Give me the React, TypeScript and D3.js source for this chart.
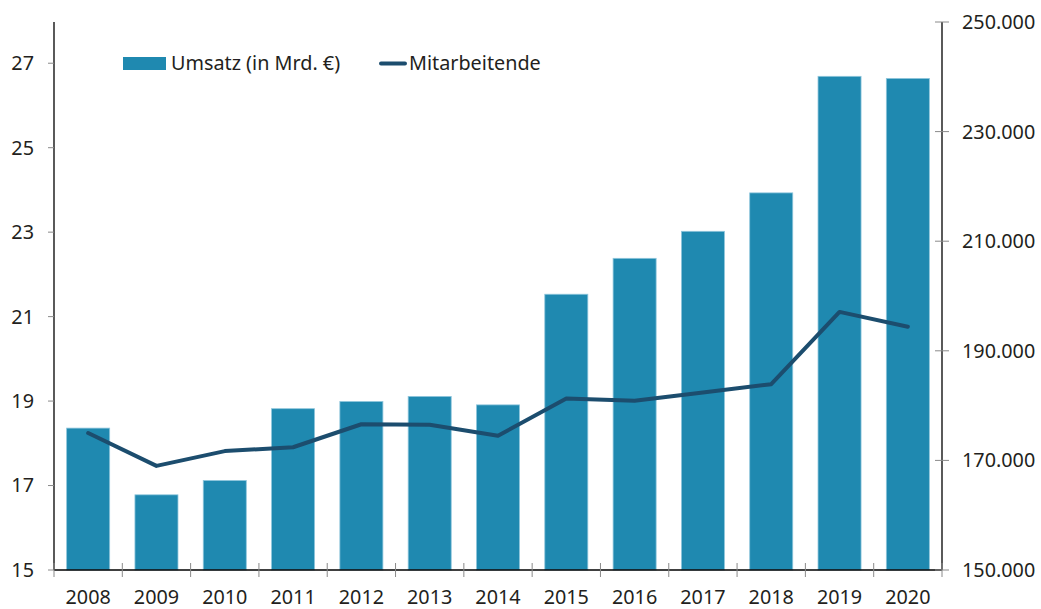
import React from "react";
import * as d3 from "d3";

const years = ["2008","2009","2010","2011","2012","2013","2014","2015","2016","2017","2018","2019","2020"];
const umsatz = [18.36, 16.78, 17.12, 18.82, 18.99, 19.11, 18.91, 21.53, 22.38, 23.02, 23.93, 26.69, 26.64];
const mitarbeitende = [175000, 169000, 171700, 172400, 176600, 176500, 174500, 181300, 180900, 182400, 183900, 197100, 194400];
const leftTicks = [15, 17, 19, 21, 23, 25, 27];
const rightTicks = [150000, 170000, 190000, 210000, 230000, 250000];

const W = 1041, H = 609;
const x0 = 54, x1 = 942, yTop = 22, yBot = 570;
const font = "'Noto Sans', 'Open Sans', sans-serif";
const textColor = "#231f20";
const tickColor = "#8a8a8a";
const fs = 19.8;

export default function App() {
  const x = d3.scaleBand<string>().domain(years).range([x0, x1]).paddingInner(0.37).paddingOuter(0.185);
  const band = d3.scaleBand<string>().domain(years).range([x0, x1]);
  const yL = d3.scaleLinear().domain([15, 28]).range([yBot, yTop - 1]);
  const yR = d3.scaleLinear().domain([150000, 250000]).range([yBot, yTop]);
  const line = d3.line<number>().x((_, i) => band(years[i])! + band.bandwidth() / 2).y(d => yR(d));
  const fmt = (v: number) => d3.format(",")(v).replace(/,/g, ".");
  return (
    <svg width={W} height={H} style={{ position: "absolute", left: 0, top: 0, background: "#fff" }}>
      {years.map((yr, i) => (
        <rect key={yr} x={x(yr)} y={yL(umsatz[i])} width={x.bandwidth()} height={yBot - yL(umsatz[i])}
          fill="#1f89b0" stroke="#8fc6dc" strokeWidth={0.8} />
      ))}
      <path d={line(mitarbeitende) || ""} fill="none" stroke="#1c4d6e" strokeWidth={4} strokeLinejoin="round" strokeLinecap="round" />
      {/* axes */}
      <line x1={x0} x2={x0} y1={yTop} y2={yBot} stroke="#000" strokeWidth={1.3} />
      <line x1={x1} x2={x1} y1={yTop} y2={yBot} stroke="#000" strokeWidth={1.3} />
      <line x1={x0} x2={x1} y1={yBot} y2={yBot} stroke="#000" strokeWidth={1.3} />
      {leftTicks.map(t => (
        <g key={t}>
          <line x1={x0 - 6} x2={x0} y1={yL(t)} y2={yL(t)} stroke={tickColor} strokeWidth={1} />
          <text x={34} y={yL(t)} dy="0.35em" textAnchor="end" fontFamily={font} fontSize={fs} fill={textColor}>{t}</text>
        </g>
      ))}
      {rightTicks.map(t => (
        <g key={t}>
          <line x1={x1 - 7} x2={x1 + 7} y1={yR(t)} y2={yR(t)} stroke={tickColor} strokeWidth={1} />
          <text x={962} y={yR(t)} dy="0.35em" textAnchor="start" fontFamily={font} fontSize={fs} fill={textColor}>{fmt(t)}</text>
        </g>
      ))}
      {[...years.map(y => band(y)!), x1].map((px, i) => (
        <line key={i} x1={px} x2={px} y1={yBot - 7} y2={yBot + 7} stroke={tickColor} strokeWidth={1} />
      ))}
      {years.map(yr => (
        <text key={yr} x={band(yr)! + band.bandwidth() / 2} y={604} textAnchor="middle" fontFamily={font} fontSize={fs} fill={textColor}>{yr}</text>
      ))}
      {/* legend */}
      <rect x={123} y={57} width={43} height={13} fill="#1f89b0" />
      <text x={171} y={63.5} dy="0.35em" fontFamily={font} fontSize={fs} fill={textColor}>Umsatz (in Mrd. €)</text>
      <line x1={381} x2={405} y1={63.5} y2={63.5} stroke="#1c4d6e" strokeWidth={4} strokeLinecap="round" />
      <text x={409} y={63.5} dy="0.35em" fontFamily={font} fontSize={fs} fill={textColor}>Mitarbeitende</text>
    </svg>
  );
}
